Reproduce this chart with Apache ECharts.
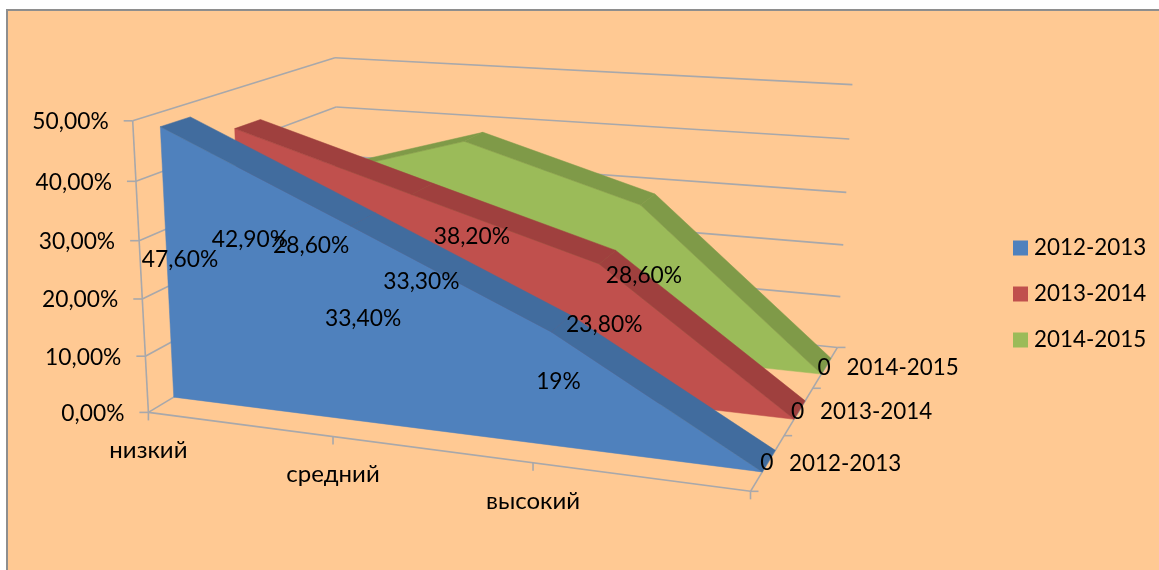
<!DOCTYPE html>
<html><head><meta charset="utf-8">
<style>html,body{margin:0;padding:0;background:#fff}#c{width:1159px;height:570px}</style>
<script src="https://cdn.jsdelivr.net/npm/echarts@6/dist/echarts.min.js"></script>
</head><body><div id="c"></div>
<script>
// ---- data ----
const categories = ['низкий', 'средний', 'высокий', ''];
const seriesNames = ['2012-2013', '2013-2014', '2014-2015'];
const values2012 = [47.6, 33.4, 19, 0];
const values2013 = [42.9, 33.3, 23.8, 0];
const values2014 = [28.6, 38.2, 28.6, 0];
const labels2012 = ['47,60%', '33,40%', '19%', '0'];
const labels2013 = ['42,90%', '33,30%', '23,80%', '0'];
const labels2014 = ['28,60%', '38,20%', '28,60%', '0'];
const yTicks = [0, 10, 20, 30, 40, 50];
const yTickLabels = ['0,00%', '10,00%', '20,00%', '30,00%', '40,00%', '50,00%'];

// ---- style / layout ----
const FONT = 'Lato, "Open Sans", sans-serif';
const FS = 22.8, FS_CAT = 24, FS_LEG = 22.4;
const faceColors = ['#4F81BD', '#C0504D', '#9BBB59'];
const bandColors = ['#416C9E', '#9F403E', '#7F9A48'];
const GRID = '#A8A8AB';
const BG = '#FFC993';
const vFront = [0.11, 0.443, 0.777], vBack = [0.24, 0.573, 0.907];

// calibration of the 3D box: u (categories), v (depth), w (height) -> screen
const cal = [
 [0,0,0,149,412],[1/3,0,0,333,437],[2/3,0,0,533,465],[1,0,0,750,491],
 [1,1/3,0,788,435],[1,2/3,0,815,388],[1,1,0,837,347],
 [1,1,1,852,84],[1,1,.8,849,139],[1,1,.6,847,193],[1,1,.4,844,244],[1,1,.2,841,297],
 [0,0,1,133,119],[0,0,.8,137,180],[0,0,.6,140,239],[0,0,.4,143,298],[0,0,.2,146,356],
 [0,1,1,335,57],[0,1,.8,337,106],
 [0,.11,.952,159,128],[0,.11,0,172,398],[0,.24,.952,190,118],
 [0,.443,.858,233,130],[0,.573,.858,260,120],
 [1/3,.777,.764,467,143],[1/3,.907,.764,482,133],
 [2/3,.777,.572,640,205],[2/3,.907,.572,654,195],
 [1,.11,0,762,472],[1,.24,0,773,450],[1,.443,0,793,419],[1,.573,0,805,403],[1,.777,0,820,373],[1,.907,0,830,357]
];
function solveProjection(pts){
  const n=11, A=Array.from({length:n},()=>new Array(n+1).fill(0));
  const add=(r,b)=>{for(let i=0;i<n;i++){for(let j=0;j<n;j++)A[i][j]+=r[i]*r[j];A[i][n]+=r[i]*b;}};
  pts.forEach(([u,v,w,x,y])=>{x/=1000;y/=1000;
    add([u,v,w,1,0,0,0,0,-x*u,-x*v,-x*w],x);
    add([0,0,0,0,u,v,w,1,-y*u,-y*v,-y*w],y);});
  for(let c=0;c<n;c++){let p=c;for(let r=c+1;r<n;r++)if(Math.abs(A[r][c])>Math.abs(A[p][c]))p=r;
    [A[c],A[p]]=[A[p],A[c]];
    for(let r=0;r<n;r++){if(r===c)continue;const f=A[r][c]/A[c][c];for(let k=c;k<=n;k++)A[r][k]-=f*A[c][k];}}
  return A.map((r,i)=>r[n]/r[i]);
}
const P=solveProjection(cal);
function project(u,v,w){
  const d=P[8]*u+P[9]*v+P[10]*w+1;
  return [1000*(P[0]*u+P[1]*v+P[2]*w+P[3])/d,1000*(P[4]*u+P[5]*v+P[6]*w+P[7])/d];
}
// library scales -> (u,w)
function toUW(api,cat,val){
  const o=api.coord([0,0]), e=api.coord([categories.length-1,yTicks[yTicks.length-1]]), p=api.coord([cat,val]);
  return [(p[0]-o[0])/(e[0]-o[0]),(p[1]-o[1])/(e[1]-o[1])];
}
const allValues=[values2012,values2013,values2014];
const allLabels=[labels2012,labels2013,labels2014];
const text=(x,y,t,align,fs)=>({type:'text',silent:true,style:{x,y,text:t,fill:'#000',font:(fs||FS)+'px '+FONT,align:align||'center',verticalAlign:'middle'}});
const poly=(pts,fill)=>({type:'polygon',silent:true,shape:{points:pts},style:{fill,stroke:fill,lineWidth:.5}});
const line=(a,b)=>({type:'line',silent:true,shape:{x1:a[0],y1:a[1],x2:b[0],y2:b[1]},style:{stroke:GRID,lineWidth:1.6}});

function renderFrame(params,api){
  const ch=[];
  yTicks.forEach((t,i)=>{
    const w=toUW(api,0,t)[1];
    const a=project(0,0,w),b=project(0,1,w),c=project(1,1,w);
    ch.push(line(a,b),line(b,c),line(a,[a[0]-9,a[1]]));
    ch.push(text(a[0]-24,a[1]+1,yTickLabels[i],'right'));
  });
  ch.push(line(project(0,0,0),project(0,0,1)));
  const floor=[project(0,0,0),project(1,0,0),project(1,1,0)];
  ch.push(line(floor[0],floor[1]),line(floor[1],floor[2]));
  categories.forEach((c,i)=>{
    const u=toUW(api,i,0)[0],p=project(u,0,0);
    ch.push(line(p,[p[0],p[1]+8]));
    if(c)ch.push(text(p[0],p[1]+38,c,'center',FS_CAT));
  });
  for(let k=0;k<=3;k++){const p=project(1,k/3,0);ch.push(line(p,[p[0]+8,p[1]]));}
  seriesNames.forEach((n,k)=>{
    const p=project(1,(k+.5)/3,0);
    ch.push(text(p[0]+21,p[1]+1,n,'left',FS_LEG));
  });
  return {type:'group',children:ch};
}
function renderArea(k){
  return function(params,api){
    const vals=allValues[k],ch=[];
    const pt=vals.map((_,i)=>toUW(api,i,vals[i]));
    const i=params.dataIndex;
    if(i===0){
      const top=pt.map(([u,w])=>project(u,vFront[k],w));
      const bottom=[project(pt[pt.length-1][0],vFront[k],0),project(pt[0][0],vFront[k],0)];
      ch.push(poly(top.concat(bottom),faceColors[k]));
      for(let s=0;s<pt.length-1;s++){
        const [u1,w1]=pt[s],[u2,w2]=pt[s+1];
        ch.push(poly([project(u1,vFront[k],w1),project(u2,vFront[k],w2),project(u2,vBack[k],w2),project(u1,vBack[k],w1)],bandColors[k]));
      }
    }
    return {type:'group',children:ch};
  };
}
function renderLabels(params,api){
  const ch=[];
  allValues.forEach((vals,k)=>vals.forEach((val,i)=>{
    const [u,w]=toUW(api,i,val);
    const vm=(vFront[k]+vBack[k])/2;
    const p=project(u,vm,w/2);
    ch.push(text(p[0]-2,p[1]+2,allLabels[k][i]));
  }));
  return {type:'group',children:ch};
}
const chart=echarts.init(document.getElementById('c'));
const areaSeries=k=>({type:'custom',name:seriesNames[k],z:4-k,silent:true,itemStyle:{color:faceColors[k]},renderItem:renderArea(k),data:allValues[k].map((v,i)=>[i,v])});
chart.setOption({
  animation:false,
  backgroundColor:'#fff',
  graphic:[{type:'rect',z:-10,silent:true,shape:{x:7,y:10,width:1170,height:580},style:{fill:BG,stroke:'#8E8E8E',lineWidth:2}}],
  grid:{left:100,top:100,width:600,height:300},
  xAxis:{type:'category',boundaryGap:false,data:categories,show:false},
  yAxis:{type:'value',min:0,max:50,interval:10,show:false},
  legend:{data:seriesNames,orient:'vertical',left:1008,top:232,itemWidth:15,itemHeight:15,itemGap:24,icon:'rect',
    textStyle:{fontFamily:FONT,fontSize:FS_LEG,color:'#000',padding:[0,0,0,1]}},
  series:[
    {type:'custom',name:'frame',z:1,silent:true,renderItem:renderFrame,data:[[0,0]]},
    areaSeries(2),areaSeries(1),areaSeries(0),
    {type:'custom',name:'labels',z:5,silent:true,renderItem:renderLabels,data:[[0,0]]}
  ]
});
</script></body></html>
